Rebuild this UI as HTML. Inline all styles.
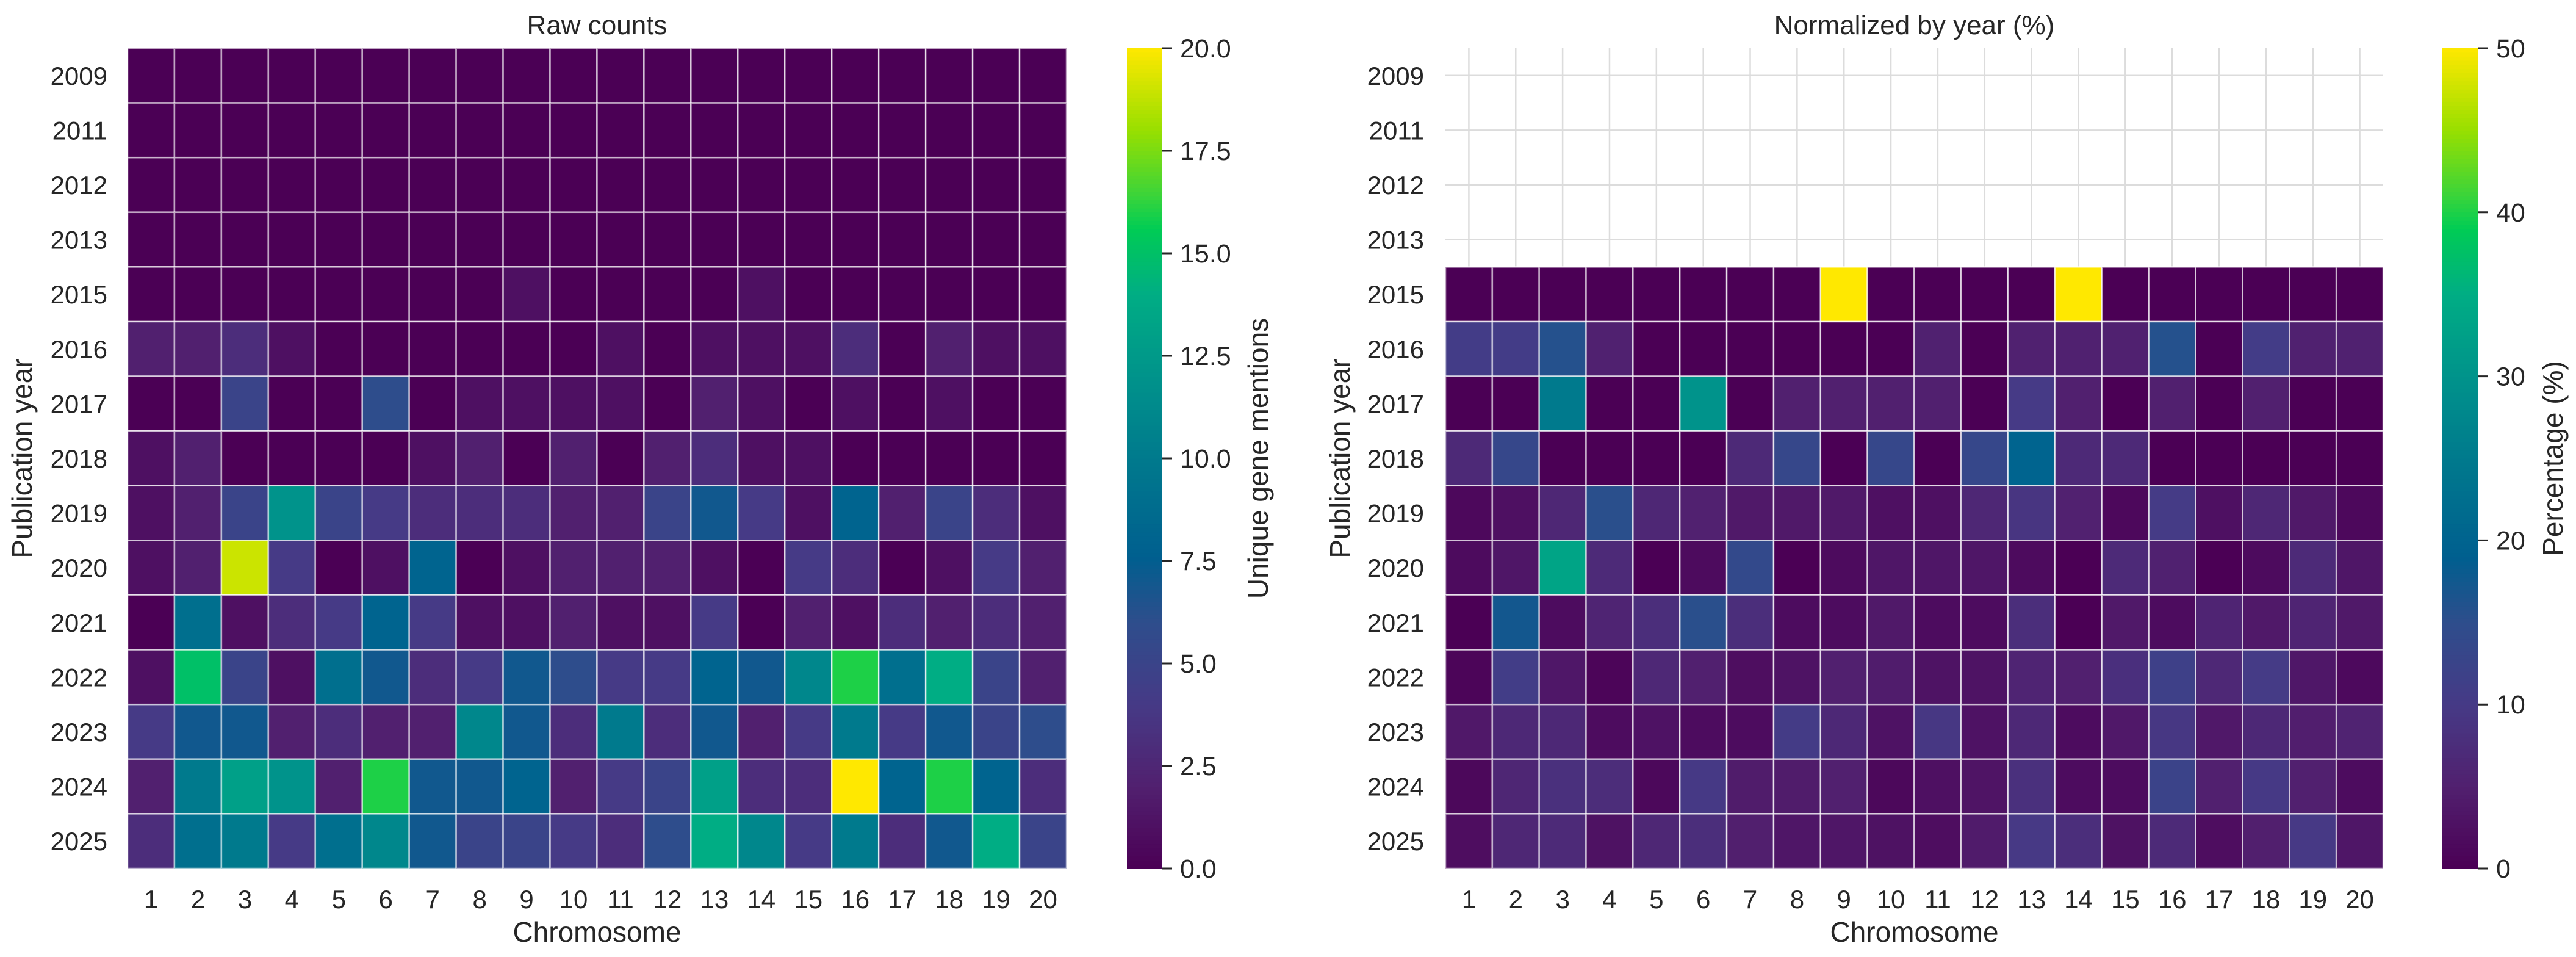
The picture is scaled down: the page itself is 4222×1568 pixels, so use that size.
<!DOCTYPE html>
<html><head><meta charset="utf-8"><style>
html,body{margin:0;padding:0;background:#fff;}
svg{display:block;font-family:"Liberation Sans",Arial,sans-serif;fill:#262626;}
</style></head><body>
<svg id="fig" width="4222" height="1568" viewBox="0 0 4222 1568" xmlns="http://www.w3.org/2000/svg"></svg>
<script>
const years = ["2009","2011","2012","2013","2015","2016","2017","2018","2019","2020","2021","2022","2023","2024","2025"];
const chromosomes = ["1","2","3","4","5","6","7","8","9","10","11","12","13","14","15","16","17","18","19","20"];
const rawCounts = [
[0,0,0,0,0,0,0,0,0,0,0,0,0,0,0,0,0,0,0,0],
[0,0,0,0,0,0,0,0,0,0,0,0,0,0,0,0,0,0,0,0],
[0,0,0,0,0,0,0,0,0,0,0,0,0,0,0,0,0,0,0,0],
[0,0,0,0,0,0,0,0,0,0,0,0,0,0,0,0,0,0,0,0],
[0,0,0,0,0,0,0,0,1,0,0,0,0,1,0,0,0,0,0,0],
[2,2,3,1,0,0,0,0,0,0,1,0,1,1,1,3,0,2,1,1],
[0,0,5,0,0,6,0,1,1,1,1,0,2,1,0,1,0,1,0,0],
[1,2,0,0,0,0,1,2,0,2,0,2,3,1,1,0,0,0,0,0],
[1,2,5,12,5,4,3,3,3,2,2,5,7,4,1,8,2,5,3,1],
[1,2,19,4,0,1,8,0,1,2,2,2,1,0,4,3,0,1,4,2],
[0,9,1,3,4,8,4,1,1,2,1,1,4,0,2,1,3,2,3,2],
[1,15,5,1,9,7,3,4,7,6,4,4,8,7,11,16,9,14,5,2],
[4,7,7,2,3,2,2,11,7,3,10,3,7,2,4,10,4,7,5,6],
[2,10,13,12,2,16,7,7,8,2,4,5,13,3,3,20,8,16,8,3],
[3,9,10,4,9,11,7,5,5,4,3,6,14,11,4,10,3,7,14,5]
];
const rawTicks = [0,2.5,5,7.5,10,12.5,15,17.5,20];
const rawTickLabels = ["0.0","2.5","5.0","7.5","10.0","12.5","15.0","17.5","20.0"];
const pctTicks = [0,10,20,30,40,50];
const pctTickLabels = ["0","10","20","30","40","50"];

const NS="http://www.w3.org/2000/svg";
const svg=document.getElementById('fig');
function mk(tag,attrs,parent){const e=document.createElementNS(NS,tag);for(const k in attrs)e.setAttribute(k,attrs[k]);(parent||svg).appendChild(e);return e;}
const CM=[[0,"#4b0055"],[0.1,"#51206f"],[0.2,"#463a86"],[0.3,"#2e4d8c"],[0.38,"#005f8f"],[0.5,"#007a8d"],[0.6,"#00938b"],[0.7,"#00ad84"],[0.78,"#00cc55"],[0.82,"#3ad43a"],[0.9,"#98df00"],[1,"#ffe800"]];
function hex(h){return [parseInt(h.slice(1,3),16),parseInt(h.slice(3,5),16),parseInt(h.slice(5,7),16)];}
function cmap(t){t=Math.max(0,Math.min(1,t));let i=0;while(i<CM.length-2&&t>CM[i+1][0])i++;const f=(t-CM[i][0])/(CM[i+1][0]-CM[i][0]);const a=hex(CM[i][1]),b=hex(CM[i+1][1]);return "rgb("+a.map((v,k)=>Math.round(v+(b[k]-v)*f)).join(",")+")";}

const yTop=79,yBot=1423;
const rowSums=rawCounts.map(r=>r.reduce((s,v)=>s+v,0));
const pct=rawCounts.map((r,i)=>r.map(v=>rowSums[i]>0?v/rowSums[i]*100:null));

function panel(opt){
  const g=mk('g',{});
  
  
  const L=opt.x0,R=opt.x1,cw=(R-L)/chromosomes.length,rh=(yBot-yTop)/years.length;
  const xc=j=>L+cw*(j+0.5), yc=i=>yTop+rh*(i+0.5);
  if(opt.grid){
    chromosomes.forEach((c,j)=>{const l=mk('line',{x1:xc(j),x2:xc(j),y1:yTop,y2:yBot,stroke:"#dcdcdc","stroke-width":2.5},g);});
    years.forEach((y,i)=>{const l=mk('line',{x1:L,x2:R,y1:yc(i),y2:yc(i),stroke:"#dcdcdc","stroke-width":2.5},g);});
  }
  opt.data.forEach((row,i)=>row.forEach((v,j)=>{
    if(v===null)return;
    const r=mk('rect',{x:L+cw*j,y:yTop+rh*i,width:cw,height:rh,fill:cmap(v/opt.vmax),stroke:"rgba(255,255,255,0.65)","stroke-width":2.5},g);
    
    
  }));
  years.forEach((y,i)=>{const t=mk('text',{x:opt.ylabX,y:yc(i)+15,"text-anchor":"end","font-size":42},g);t.textContent=y;});
  chromosomes.forEach((c,j)=>{const t=mk('text',{x:xc(j),y:1488,"text-anchor":"middle","font-size":42},g);t.textContent=c;});
  let t=mk('text',{x:(L+R)/2,y:56,"text-anchor":"middle","font-size":44},g);t.textContent=opt.title;
  t=mk('text',{x:(L+R)/2,y:1543,"text-anchor":"middle","font-size":46},g);t.textContent="Chromosome";
  t=mk('text',{x:0,y:0,"text-anchor":"middle","font-size":46,transform:`translate(${opt.ytitleX},${(yTop+yBot)/2}) rotate(-90)`},g);t.textContent="Publication year";
  const cb=mk('g',{},g);
  const n=200,h=(yBot-yTop)/n;
  for(let k=0;k<n;k++){mk('rect',{x:opt.cbx,y:yBot-(k+1)*h-0.5,width:opt.cbw,height:h+1,fill:cmap((k+0.5)/n)},cb);}
  const cy=v=>yBot-(v/opt.vmax)*(yBot-yTop);
  opt.ticks.forEach((v,k)=>{
    mk('line',{x1:opt.cbx+opt.cbw,x2:opt.cbx+opt.cbw+17,y1:cy(v),y2:cy(v),stroke:"#262626","stroke-width":3},cb);
    const tt=mk('text',{x:opt.cbx+opt.cbw+30,y:cy(v)+15,"font-size":43},cb);tt.textContent=opt.tickLabels[k];
    
    
  });
  t=mk('text',{x:0,y:0,"text-anchor":"middle","font-size":46,transform:`translate(${opt.cbLabelX},${(yTop+yBot)/2}) rotate(-90)`},cb);t.textContent=opt.cbLabel;
}
panel({name:'raw-counts-heatmap',x0:209,x1:1748,data:rawCounts,vmax:20,grid:false,ylabX:176,ytitleX:52,title:"Raw counts",cbx:1847,cbw:57,ticks:rawTicks,tickLabels:rawTickLabels,cbLabel:"Unique gene mentions",cbLabelX:2078});
panel({name:'normalized-heatmap',x0:2369,x1:3906,data:pct,vmax:50,grid:true,ylabX:2334,ytitleX:2212,title:"Normalized by year (%)",cbx:4003,cbw:58,ticks:pctTicks,tickLabels:pctTickLabels,cbLabel:"Percentage (%)",cbLabelX:4200});
</script>
</body></html>
